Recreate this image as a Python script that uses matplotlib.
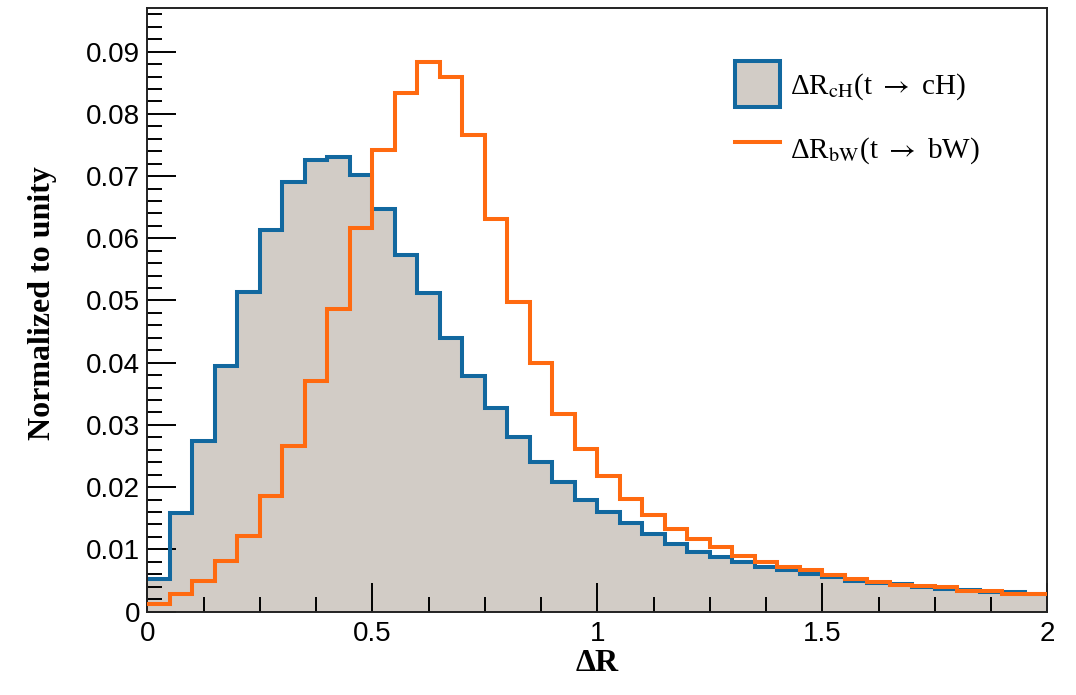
import matplotlib
matplotlib.use("Agg")
import matplotlib.pyplot as plt
import numpy as np
from matplotlib.patches import Patch
from matplotlib.lines import Line2D
from matplotlib.ticker import MultipleLocator

# ---- data ----
bin_edges = np.round(np.arange(0, 2.0001, 0.05), 3)
dr_cH = [0.0053, 0.0158, 0.0274, 0.0395, 0.0514, 0.0613, 0.0691, 0.0726, 0.0731, 0.0702,
         0.0647, 0.0573, 0.0512, 0.0439, 0.0379, 0.0327, 0.0280, 0.0241, 0.0209, 0.0180,
         0.0160, 0.0142, 0.0125, 0.0109, 0.0096, 0.0087, 0.0079, 0.0071, 0.0066, 0.0060,
         0.0055, 0.0049, 0.0046, 0.0044, 0.0040, 0.0036, 0.0035, 0.0032, 0.0031, 0.0028]
dr_bW = [0.0012, 0.0028, 0.0049, 0.0082, 0.0122, 0.0185, 0.0266, 0.0371, 0.0487, 0.0617,
         0.0742, 0.0834, 0.0883, 0.0859, 0.0766, 0.0631, 0.0497, 0.0400, 0.0317, 0.0261,
         0.0218, 0.0181, 0.0155, 0.0133, 0.0117, 0.0103, 0.0090, 0.0079, 0.0071, 0.0066,
         0.0058, 0.0052, 0.0047, 0.0042, 0.0041, 0.0039, 0.0033, 0.0033, 0.0028, 0.0028]
label_cH = r"ΔR$_{\rm cH}$(t $\rightarrow$ cH)"
label_bW = r"ΔR$_{\rm bW}$(t $\rightarrow$ bW)"
x_label = "ΔR"
y_label = "Normalized to unity"

# ---- style ----
blue = "#12689f"
orange = "#ff6a10"
fillc = "#d2ccc6"

fig = plt.figure(figsize=(10.76, 6.95), dpi=100)
ax = fig.add_axes([0.1369, 0.1201, 0.8364, 0.8691])

ax.stairs(dr_cH, bin_edges, fill=True, facecolor=fillc, edgecolor="none", zorder=1)
ax.stairs(dr_cH, bin_edges, baseline=None, color=blue, lw=2.9, zorder=2)
ax.stairs(dr_bW, bin_edges, baseline=None, color=orange, lw=2.9, zorder=3)

ax.set_xlim(0, 2)
ax.set_ylim(0, 0.0971)

ax.xaxis.set_major_locator(MultipleLocator(0.5))
ax.xaxis.set_minor_locator(MultipleLocator(0.125))
ax.yaxis.set_major_locator(MultipleLocator(0.01))
ax.yaxis.set_minor_locator(MultipleLocator(0.002))

ax.tick_params(which="both", direction="in", top=False, right=False,
               width=1.4, color="black")
ax.tick_params(which="major", length=21)
ax.tick_params(which="minor", length=10.5)
ax.tick_params(axis="x", which="major", pad=7)
ax.tick_params(axis="y", which="major", pad=5)

def fmt(v, pos):
    return f"{v:g}"
ax.xaxis.set_major_formatter(plt.FuncFormatter(fmt))
ax.yaxis.set_major_formatter(plt.FuncFormatter(fmt))
for lab in ax.get_xticklabels() + ax.get_yticklabels():
    lab.set_fontfamily("Liberation Sans")
    lab.set_fontsize(20)

for sp in ax.spines.values():
    sp.set_linewidth(1.4)
    sp.set_color("#222222")

ax.set_xlabel(x_label, fontfamily="Liberation Serif", fontweight="bold",
              fontsize=23, labelpad=0)
ax.xaxis.set_label_coords(0.5, -0.062)
ax.set_ylabel(y_label, fontfamily="Liberation Serif", fontweight="bold",
              fontsize=23)
ax.yaxis.set_label_coords(-0.100, 0.51)

handles = [Patch(facecolor=fillc, edgecolor=blue, lw=2.9),
           Line2D([], [], color=orange, lw=2.9)]
leg = ax.legend(handles, [label_cH, label_bW], loc="upper left",
                bbox_to_anchor=(0.653, 0.911), frameon=False,
                prop={"family": ["Liberation Serif", "DejaVu Serif"], "size": 21},
                handlelength=1.55, handleheight=2.06, handletextpad=0.35,
                labelspacing=0.62, borderpad=0, borderaxespad=0)
for t in leg.get_texts():
    t.set_math_fontfamily("stix")

fig.savefig("out.png", dpi=100)
